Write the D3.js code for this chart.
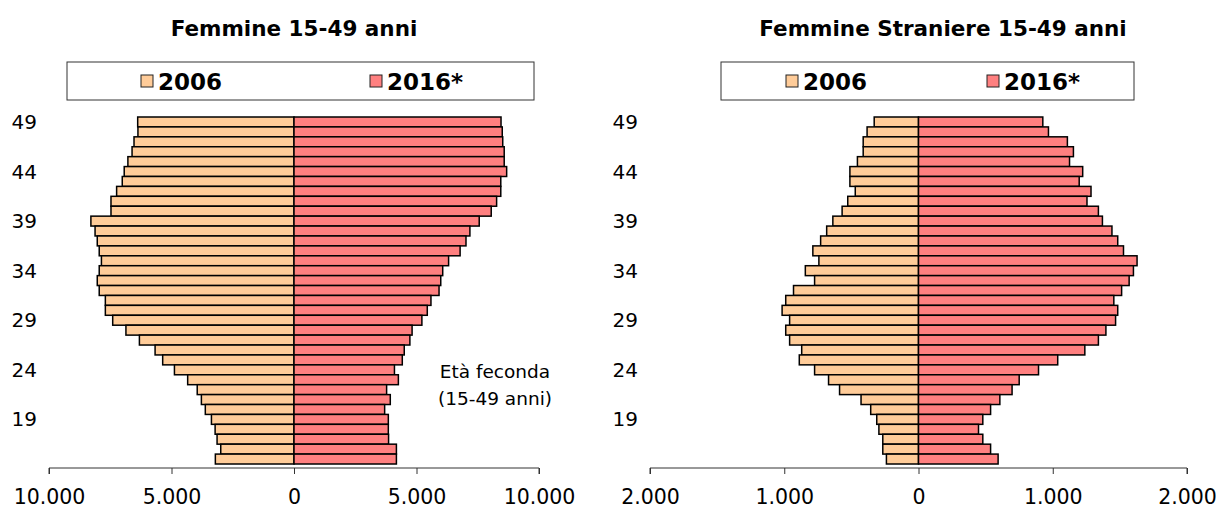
<!DOCTYPE html>
<html>
<head>
<meta charset="utf-8">
<script src="https://cdnjs.cloudflare.com/ajax/libs/d3/7.8.5/d3.min.js"></script>
<style>
  body { margin: 0; background: #fff; }
  svg { display: block; font-family: "DejaVu Sans", Verdana, sans-serif; }
</style>
</head>
<body>
<svg id="chart" width="1216" height="510"></svg>
<script>
// ages from 15 to 49 (bottom to top)
let ages = d3.range(15, 50)
let ageTicks = [19, 24, 29, 34, 39, 44, 49]
let years = ['2006', '2016*']

// Femmine 15-49 anni, values listed from age 49 down to age 15
let tot2006 = [6380, 6370, 6530, 6610, 6780, 6930, 7010, 7240, 7470, 7470,
               8290, 8120, 8030, 7950, 7860, 7950, 8030, 7950, 7700, 7700,
               7400, 6860, 6310, 5670, 5360, 4880, 4340, 3950, 3780, 3620,
               3370, 3220, 3140, 2990, 3210]
let tot2016 = [8450, 8500, 8520, 8580, 8580, 8680, 8440, 8440, 8270, 8050,
               7560, 7180, 7020, 6780, 6310, 6070, 5990, 5920, 5590, 5440,
               5220, 4820, 4730, 4500, 4420, 4100, 4260, 3780, 3930, 3700,
               3850, 3850, 3860, 4180, 4180]

// Femmine Straniere 15-49 anni, same order
let str2006 = [330, 383, 412, 412, 455, 511, 511, 471, 527, 569,
               638, 684, 729, 787, 742, 843, 774, 931, 989, 1016,
               960, 989, 960, 870, 888, 774, 670, 588, 428, 356,
               311, 295, 266, 266, 239]
let str2016 = [926, 968, 1109, 1154, 1125, 1223, 1197, 1285, 1255, 1340,
               1370, 1441, 1484, 1527, 1628, 1601, 1569, 1513, 1455, 1484,
               1468, 1396, 1340, 1239, 1037, 894, 750, 697, 606, 537,
               479, 447, 479, 537, 593]

let leftTicks = [-10000, -5000, 0, 5000, 10000]
let rightTicks = [-2000, -1000, 0, 1000, 2000]

let colors = { '2006': '#FFCC99', '2016*': '#FF8080' }
let fmt = d => d3.format(',')(Math.abs(d)).replace(/,/g, '.')

let svg = d3.select('#chart')

function pyramid(opt) {
  let g = svg.append('g')

  let x = d3.scaleLinear().domain([-opt.max, opt.max]).range([opt.x0, opt.x1])
  let y = d3.scaleBand().domain(ages.slice().reverse()).range([117, 464]).padding(0)

  let rows = ages.slice().reverse().map((a, i) => ({ age: a, old: opt.old[i], cur: opt.cur[i] }))

  // title
  g.append('text')
    .attr('x', opt.titleX).attr('y', 36)
    .attr('text-anchor', 'middle')
    .style('font-weight', 'bold').style('font-size', '21.5px')
    .text(opt.title)

  // legend box
  g.append('rect')
    .attr('x', opt.legX).attr('y', 62).attr('width', opt.legW).attr('height', 38)
    .attr('fill', 'white').attr('stroke', '#333').attr('stroke-width', 1)

  years.forEach((yr, i) => {
    let lx = opt.legX + opt.legItems[i]
    g.append('rect')
      .attr('x', lx).attr('y', 75).attr('width', 12).attr('height', 12)
      .attr('fill', colors[yr]).attr('stroke', '#222').attr('stroke-width', 1)
    g.append('text')
      .attr('x', lx + 17).attr('y', 90)
      .style('font-weight', 'bold').style('font-size', '23px')
      .text(yr)
  })

  // bars
  g.selectAll('rect.old')
    .data(rows)
    .enter()
    .append('rect')
    .attr('class', 'old')
    .attr('x', d => x(-d.old))
    .attr('y', d => y(d.age))
    .attr('width', d => x(0) - x(-d.old))
    .attr('height', y.bandwidth())
    .attr('fill', colors['2006'])
    .attr('stroke', 'black')
    .style('stroke-width', '1.5px')

  g.selectAll('rect.cur')
    .data(rows)
    .enter()
    .append('rect')
    .attr('class', 'cur')
    .attr('x', x(0))
    .attr('y', d => y(d.age))
    .attr('width', d => x(d.cur) - x(0))
    .attr('height', y.bandwidth())
    .attr('fill', colors['2016*'])
    .attr('stroke', 'black')
    .style('stroke-width', '1.5px')

  // age labels
  g.selectAll('text.age')
    .data(ageTicks)
    .enter()
    .append('text')
    .attr('class', 'age')
    .attr('x', opt.x0 - 12)
    .attr('y', d => y(d) + y.bandwidth() / 2 + 7)
    .attr('text-anchor', 'end')
    .style('font-size', '20px')
    .text(d => d)

  // x axis
  let axis = g.append('g')
    .attr('transform', 'translate(0,468)')
    .call(d3.axisBottom(x).tickValues(opt.ticks).tickFormat(fmt).tickSize(6).tickPadding(15))
  axis.select('.domain').attr('stroke', '#333').attr('d', 'M' + opt.x0 + ',6V0H' + opt.x1 + 'V6')
  axis.selectAll('.tick line').attr('stroke', '#333')
  axis.selectAll('.tick text')
    .style('font-family', '"DejaVu Sans", Verdana, sans-serif')
    .style('font-size', '20.5px')
    .attr('fill', 'black')

  return g
}

pyramid({
  title: 'Femmine 15-49 anni', titleX: 294,
  old: tot2006, cur: tot2016, max: 10000, ticks: leftTicks,
  x0: 49, x1: 539, legX: 67, legW: 467, legItems: [74, 303]
})

pyramid({
  title: 'Femmine Straniere 15-49 anni', titleX: 943,
  old: str2006, cur: str2016, max: 2000, ticks: rightTicks,
  x0: 650, x1: 1187, legX: 721, legW: 413, legItems: [65, 266]
})

// annotation on the left chart
let note = svg.append('text')
  .attr('text-anchor', 'middle')
  .style('font-size', '18.5px')
note.append('tspan').attr('x', 495).attr('y', 378).text('Età feconda')
note.append('tspan').attr('x', 495).attr('y', 405).text('(15-49 anni)')
</script>
</body>
</html>
